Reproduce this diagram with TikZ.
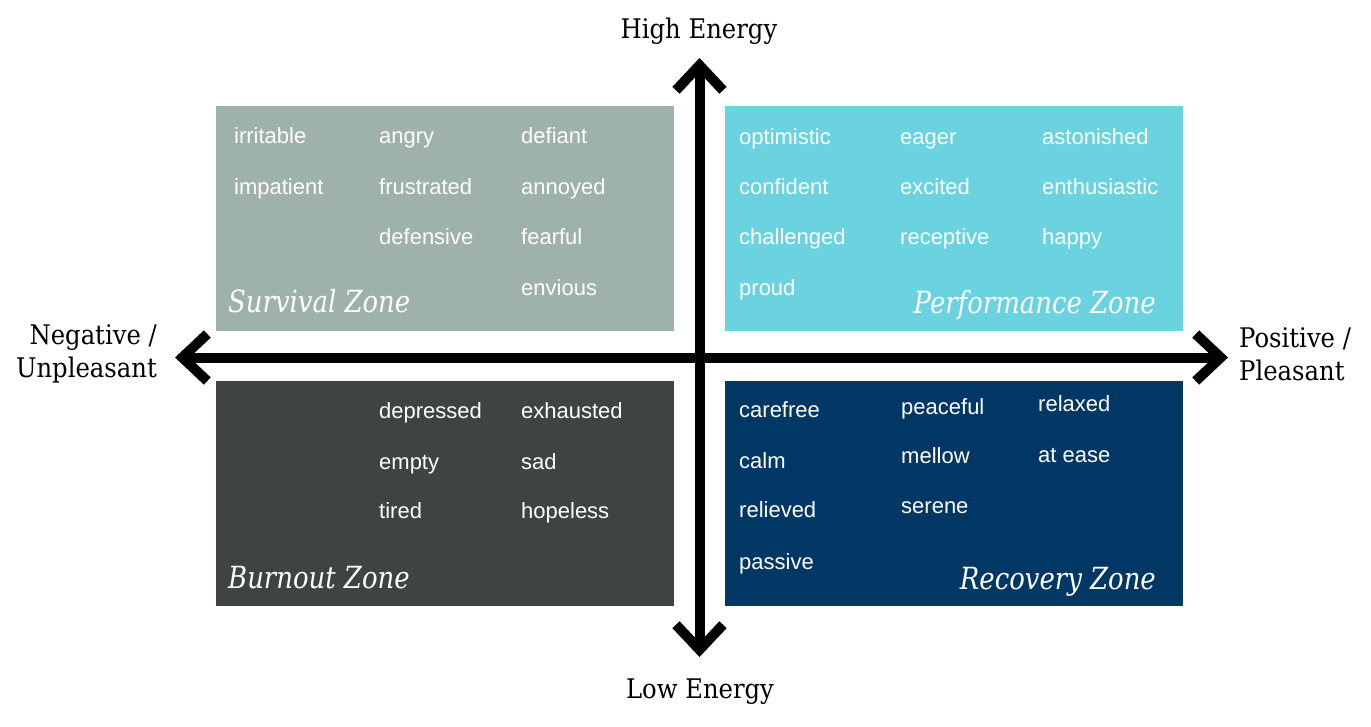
\documentclass[tikz,border=0pt]{standalone}
\usepackage{fontspec}
\setmainfont{Liberation Sans}
\newfontfamily\slabfont[FakeStretch=0.9]{DejaVu Serif}
\newfontfamily\zonefont[FakeStretch=0.85]{DejaVu Serif}
\usetikzlibrary{arrows.meta}
\definecolor{survival}{HTML}{9EB1AC}
\definecolor{performance}{HTML}{6AD3DF}
\definecolor{burnout}{HTML}{3F4443}
\definecolor{recovery}{HTML}{003764}

\begin{document}
\begin{tikzpicture}[x=1pt,y=-1pt,
    zonebox/.style={anchor=north west,inner sep=0pt,minimum width=458pt,minimum height=225pt},
    word/.style={anchor=base west,white,inner sep=0pt,font=\fontsize{22}{22}\selectfont},
    zonelabel/.style={white,inner sep=0pt,font=\zonefont\itshape\fontsize{30.5}{30.5}\selectfont},
    axislabel/.style={inner sep=0pt,font=\slabfont\fontsize{27}{33}\selectfont},
    axis/.style={line width=10pt,{Straight Barb[length=25pt,width=47pt]}-{Straight Barb[length=25pt,width=47pt]}}]
  \useasboundingbox (0,0) rectangle (1371,726);
  % quadrants
  \node[zonebox,fill=survival] (survival) at (216,106) {};
  \node[zonebox,fill=performance] (performance) at (725,106) {};
  \node[zonebox,fill=burnout] (burnout) at (216,381) {};
  \node[zonebox,fill=recovery] (recovery) at (725,381) {};
  % axes
  \coordinate (west) at (175,357.5);
  \coordinate (east) at (1228,357.5);
  \coordinate (north) at (699.5,58);
  \coordinate (south) at (699.5,657);
  \draw[axis] (west) -- (east);
  \draw[axis] (north) -- (south);
  \node[axislabel,anchor=base] (high) at (699,38.5) {High Energy};
  \node[axislabel,anchor=base] (low) at (700,698) {Low Energy};
  \node[axislabel,anchor=east,align=right] (neg) at (157,354) {Negative /\\Unpleasant};
  \node[axislabel,anchor=west,align=left] (pos) at (1239,354) {Positive /\\Pleasant};
  % survival zone
  \foreach \x/\y/\w [count=\i] in {234/143.5/irritable, 379/143.5/angry, 521/143.5/defiant,
      234/194/impatient, 379/194/frustrated, 521/194/annoyed,
      379/244.5/defensive, 521/244.5/fearful, 521/295/envious}
    \node[word] (s\i) at (\x,\y) {\w};
  \node[zonelabel,anchor=base west] (slabel) at (228,312) {Survival Zone};
  % performance zone
  \foreach \x/\y/\w [count=\i] in {739/144/optimistic, 900/144/eager, 1042/144/astonished,
      739/194.5/confident, 900/194.5/excited, 1042/194.5/enthusiastic,
      739/244.5/challenged, 900/244.5/receptive, 1042/244.5/happy, 739/295/proud}
    \node[word] (p\i) at (\x,\y) {\w};
  \node[zonelabel,anchor=base east] (plabel) at (1156,313) {Performance Zone};
  % burnout zone
  \foreach \x/\y/\w [count=\i] in {379/418/depressed, 521/418/exhausted,
      379/469/empty, 521/469/sad, 379/518/tired, 521/518/hopeless}
    \node[word] (b\i) at (\x,\y) {\w};
  \node[zonelabel,anchor=base west] (blabel) at (228,588) {Burnout Zone};
  % recovery zone
  \foreach \x/\y/\w [count=\i] in {739/417/carefree, 901/414/peaceful, 1038/411.5/relaxed,
      739/468/calm, 901/463/mellow, 1038/462.5/at ease,
      739/517/relieved, 901/513/serene, 739/569/passive}
    \node[word] (r\i) at (\x,\y) {\w};
  \node[zonelabel,anchor=base east] (rlabel) at (1156,589) {Recovery Zone};
\end{tikzpicture}
\end{document}
